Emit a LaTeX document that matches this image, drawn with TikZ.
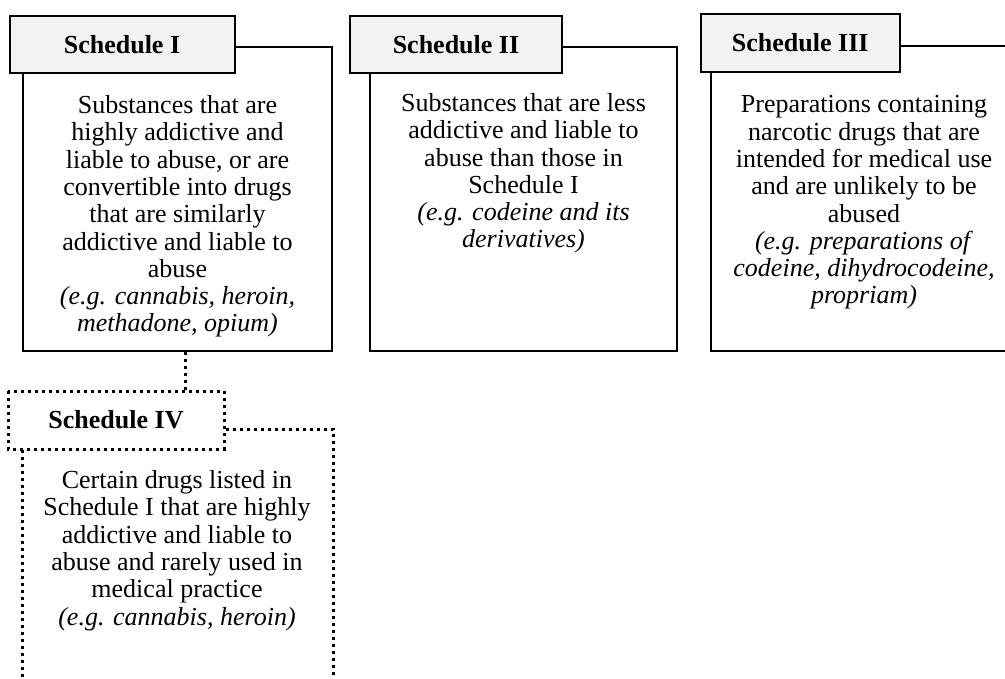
\documentclass[tikz,border=0pt]{standalone}
\usepackage{fontspec}
\setmainfont{Liberation Serif}
\definecolor{hdrgray}{RGB}{242,242,242}
\tikzset{
  hdr/.style={draw, line width=2pt, fill=hdrgray, rectangle, inner sep=0pt, font=\fontsize{26}{27.3}\selectfont\bfseries},
  bodybox/.style={draw, line width=2pt, rectangle, inner sep=0pt},
  dotbox/.style={line width=3pt, dash pattern=on 3pt off 4pt},
  bodytext/.style={align=center, inner sep=0pt, anchor=base, font=\fontsize{26}{27.3}\selectfont}
}
\begin{document}
\begin{tikzpicture}[x=1pt,y=-1pt]
\useasboundingbox (0,0) rectangle (1005,679);
\clip (0,0) rectangle (1005,679);
% Schedule I
\node[bodybox, minimum width=309pt, minimum height=304pt] (b1) at (177.5,199) {};
\node[hdr, minimum width=225pt, minimum height=57pt] (h1) at (122,44.5) {Schedule I};
\node[bodytext] (t1) at (177.5,332) {Substances that are\\highly addictive and\\liable to abuse, or are\\convertible into drugs\\that are similarly\\addictive and liable to\\abuse\\\textit{(e.g. cannabis, heroin,}\\\textit{methadone, opium)}};
% Schedule II
\node[bodybox, minimum width=307pt, minimum height=304pt] (b2) at (523.5,199) {};
\node[hdr, minimum width=212pt, minimum height=57pt] (h2) at (456,44.5) {Schedule II};
\node[bodytext] (t2) at (523.5,248) {Substances that are less\\addictive and liable to\\abuse than those in\\Schedule I\\\textit{(e.g. codeine and its}\\\textit{derivatives)}};
% Schedule III
\node[bodybox, minimum width=306pt, minimum height=305pt] (b3) at (864,198.5) {};
\node[hdr, minimum width=199.5pt, minimum height=58pt] (h3) at (800.25,43) {Schedule III};
\node[bodytext] (t3) at (864,304) {Preparations containing\\narcotic drugs that are\\intended for medical use\\and are unlikely to be\\abused\\\textit{(e.g. preparations of}\\\textit{codeine, dihydrocodeine,}\\\textit{propriam)}};
% Schedule IV
\node[bodybox, draw=none, minimum width=309pt, minimum height=270pt] (b4) at (177.5,565) {};
\draw[dotbox] (b4.north west) rectangle (b4.south east);
\node[hdr, draw=none, fill=white, minimum width=214pt, minimum height=56pt] (h4) at (116,420) {Schedule IV};
\draw[dotbox] (h4.north west) rectangle (h4.south east);
\node[bodytext] (t4) at (177,625) {Certain drugs listed in\\Schedule I that are highly\\addictive and liable to\\abuse and rarely used in\\medical practice\\\textit{(e.g. cannabis, heroin)}};
% connector
\draw[dotbox] ([xshift=7.5pt]b1.south) -- ([xshift=7.5pt]b1.south |- h4.north);
\end{tikzpicture}
\end{document}
